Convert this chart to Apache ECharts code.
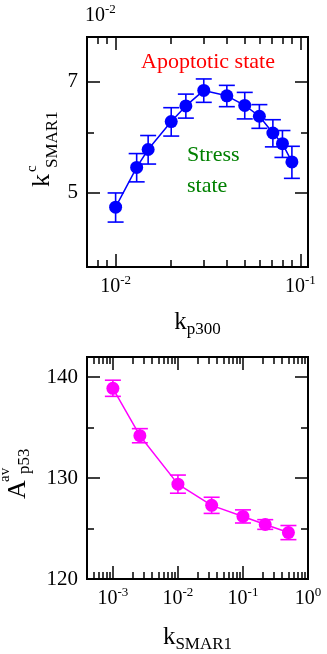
<!DOCTYPE html>
<html lang="en">
<head>
<meta charset="UTF-8">
<title>k SMAR1 / A p53</title>
<script src="https://cdn.jsdelivr.net/npm/echarts@6/dist/echarts.min.js"></script>
<style>
  html, body { margin: 0; padding: 0; background: #fff; }
  #main { width: 327px; height: 654px; }
</style>
</head>
<body>
<div id="main"></div>
<script>
// top panel: critical k_SMAR1 (in units of 10^-2) against k_p300
const kp300 = [0.010, 0.013, 0.015, 0.020, 0.024, 0.030, 0.040, 0.050, 0.060, 0.071, 0.080, 0.090];
const kcSmar1 = [4.79, 5.40, 5.70, 6.20, 6.50, 6.81, 6.70, 6.51, 6.30, 5.99, 5.80, 5.49];
const kcErr = [0.21, 0.23, 0.245, 0.265, 0.235, 0.24, 0.215, 0.26, 0.225, 0.245, 0.235, 0.265];

// bottom panel: average p53 amplitude against k_SMAR1
const kSmar1 = [0.001, 0.0026, 0.01, 0.033, 0.1, 0.22, 0.5];
const aP53 = [138.9, 134.2, 129.4, 127.3, 126.2, 125.4, 124.6];
const aErr = [0.8, 0.7, 0.9, 0.8, 0.65, 0.48, 0.7];

// ticks
const topXMajor = [0.01, 0.1];
const topXMinor = [0.007, 0.008, 0.009, 0.02, 0.03, 0.04, 0.05, 0.06, 0.07, 0.08, 0.09];
const topYMajor = [5, 7];
const topYMinor = [6];
const botXMajor = [0.001, 0.01, 0.1, 1];
const botXMinor = [0.0004, 0.0005, 0.0006, 0.0007, 0.0008, 0.0009,
  0.002, 0.003, 0.004, 0.005, 0.006, 0.007, 0.008, 0.009,
  0.02, 0.03, 0.04, 0.05, 0.06, 0.07, 0.08, 0.09,
  0.2, 0.3, 0.4, 0.5, 0.6, 0.7, 0.8, 0.9];
const botYMajor = [120, 130, 140];
const botYMinor = [125, 135];

const FONT = '"Liberation Serif", "DejaVu Serif", serif';
const MAJ = 13, MIN = 7;

var myChart = echarts.init(document.getElementById('main'));

const powRich = {
  b: { fontFamily: FONT, fontSize: 20, lineHeight: 20, color: '#000' },
  s: { fontFamily: FONT, fontSize: 13, lineHeight: 13, padding: [0, 0, 12, 0], color: '#000' }
};
function powLabel(v) {
  const e = Math.round(Math.log10(v));
  return '{b|10}{s|' + e + '}';
}

// one axis that only draws a set of ticks (and maybe labels)
function xAx(grid, pos, type, min, max, ticks, len, labels) {
  const ax = {
    gridIndex: grid, type: type, position: pos, min: min, max: max,
    axisLine: { show: false }, splitLine: { show: false },
    axisTick: { inside: true, length: len, customValues: ticks, lineStyle: { color: '#000', width: 1.5 } },
    axisLabel: { show: false }
  };
  if (type === 'log') ax.logBase = 10;
  if (labels) {
    ax.axisLabel = { show: true, customValues: labels, margin: 10, formatter: powLabel, rich: powRich,
      fontFamily: FONT };
  }
  return ax;
}
function yAx(grid, pos, type, min, max, ticks, len, labels) {
  const ax = xAx(grid, pos, type, min, max, ticks, len, null);
  if (labels) {
    ax.axisLabel = { show: true, customValues: labels, margin: 9,
      fontFamily: FONT, fontSize: 21, color: '#000' };
  }
  return ax;
}

const xAxes = [
  xAx(0, 'bottom', 'log', 0.007, 0.11, topXMajor, MAJ, topXMajor),
  xAx(0, 'bottom', 'log', 0.007, 0.11, topXMinor, MIN),
  xAx(0, 'top', 'log', 0.007, 0.11, topXMajor, MAJ),
  xAx(0, 'top', 'log', 0.007, 0.11, topXMinor, MIN),
  xAx(1, 'bottom', 'log', 0.0004, 1, botXMajor, MAJ, botXMajor),
  xAx(1, 'bottom', 'log', 0.0004, 1, botXMinor, MIN),
  xAx(1, 'top', 'log', 0.0004, 1, botXMajor, MAJ),
  xAx(1, 'top', 'log', 0.0004, 1, botXMinor, MIN)
];
xAxes[0].name = '{k|k}{sub|p300}';
xAxes[4].name = '{k|k}{sub|SMAR1}';
const nameRich = {
  k: { fontFamily: FONT, fontSize: 25, lineHeight: 25, color: '#000' },
  sub: { fontFamily: FONT, fontSize: 17, lineHeight: 17, padding: [14, 0, 0, 0], color: '#000' }
};
[0, 4].forEach(function (i) {
  xAxes[i].nameLocation = 'middle';
  xAxes[i].nameGap = i === 0 ? 43 : 46;
  xAxes[i].nameTextStyle = { rich: nameRich, fontFamily: FONT };
});

const yAxes = [
  yAx(0, 'left', 'log', 4, 8, topYMajor, MAJ, topYMajor),
  yAx(0, 'left', 'log', 4, 8, topYMinor, MIN),
  yAx(0, 'right', 'log', 4, 8, topYMajor, MAJ),
  yAx(0, 'right', 'log', 4, 8, topYMinor, MIN),
  yAx(1, 'left', 'value', 120, 142, botYMajor, MAJ, botYMajor),
  yAx(1, 'left', 'value', 120, 142, botYMinor, MIN),
  yAx(1, 'right', 'value', 120, 142, botYMajor, MAJ),
  yAx(1, 'right', 'value', 120, 142, botYMinor, MIN)
];

function errRender(params, api) {
  const x = api.value(0), y = api.value(1), e = api.value(2);
  const hi = api.coord([x, y + e]);
  const lo = api.coord([x, y - e]);
  const w = 8;
  const st = { stroke: api.visual('color'), lineWidth: 1.6 };
  return {
    type: 'group', children: [
      { type: 'line', shape: { x1: hi[0], y1: hi[1], x2: lo[0], y2: lo[1] }, style: st },
      { type: 'line', shape: { x1: hi[0] - w, y1: hi[1], x2: hi[0] + w, y2: hi[1] }, style: st },
      { type: 'line', shape: { x1: lo[0] - w, y1: lo[1], x2: lo[0] + w, y2: lo[1] }, style: st }
    ]
  };
}

const topPts = kp300.map((x, i) => [x, kcSmar1[i], kcErr[i]]);
const botPts = kSmar1.map((x, i) => [x, aP53[i], aErr[i]]);

function txt(t, x, y, size, color, rot, align) {
  return {
    type: 'text', x: x, y: y, rotation: rot || 0,
    style: { text: t, font: size + 'px ' + FONT, fill: color,
      textAlign: align || 'left', textVerticalAlign: 'bottom' }
  };
}
const R = Math.PI / 2;

option = {
  animation: false,
  backgroundColor: '#fff',
  textStyle: { fontFamily: FONT },
  grid: [
    { left: 87, top: 37, width: 221, height: 230, show: true, borderColor: '#000', borderWidth: 2 },
    { left: 87, top: 357, width: 221, height: 231, show: true, borderColor: '#000', borderWidth: 2 }
  ],
  xAxis: xAxes,
  yAxis: yAxes,
  graphic: [
    { type: 'text', x: 85, y: 6, style: { text: '{b|10}{s|-2}', rich: powRich, font: '20px ' + FONT } },
    txt('Apoptotic state', 208, 73, 22, '#ff0000', 0, 'center'),
    txt('Stress', 187, 166, 22, '#008000'),
    txt('state', 187, 197, 22, '#008000'),
    // y names, rotated
    txt('k', 55, 187, 26, '#000', R),
    txt('c', 40, 172, 15, '#000', R),
    txt('SMAR1', 61, 168, 17, '#000', R),
    txt('A', 31, 499, 26, '#000', R),
    txt('av', 13, 482, 15, '#000', R),
    txt('p53', 33, 474, 17, '#000', R)
  ],
  series: [
    {
      type: 'custom', xAxisIndex: 0, yAxisIndex: 0, renderItem: errRender,
      itemStyle: { color: '#0000ff' }, data: topPts, z: 3
    },
    {
      type: 'line', xAxisIndex: 0, yAxisIndex: 0, data: topPts,
      symbol: 'circle', symbolSize: 13, itemStyle: { color: '#0000ff' },
      lineStyle: { color: '#0000ff', width: 1.5 }, z: 4
    },
    {
      type: 'custom', xAxisIndex: 4, yAxisIndex: 4, renderItem: errRender,
      itemStyle: { color: '#ff00ff' }, data: botPts, z: 3
    },
    {
      type: 'line', xAxisIndex: 4, yAxisIndex: 4, data: botPts,
      symbol: 'circle', symbolSize: 13, itemStyle: { color: '#ff00ff' },
      lineStyle: { color: '#ff00ff', width: 1.5 }, z: 4
    }
  ]
};

myChart.setOption(option);
</script>
</body>
</html>
